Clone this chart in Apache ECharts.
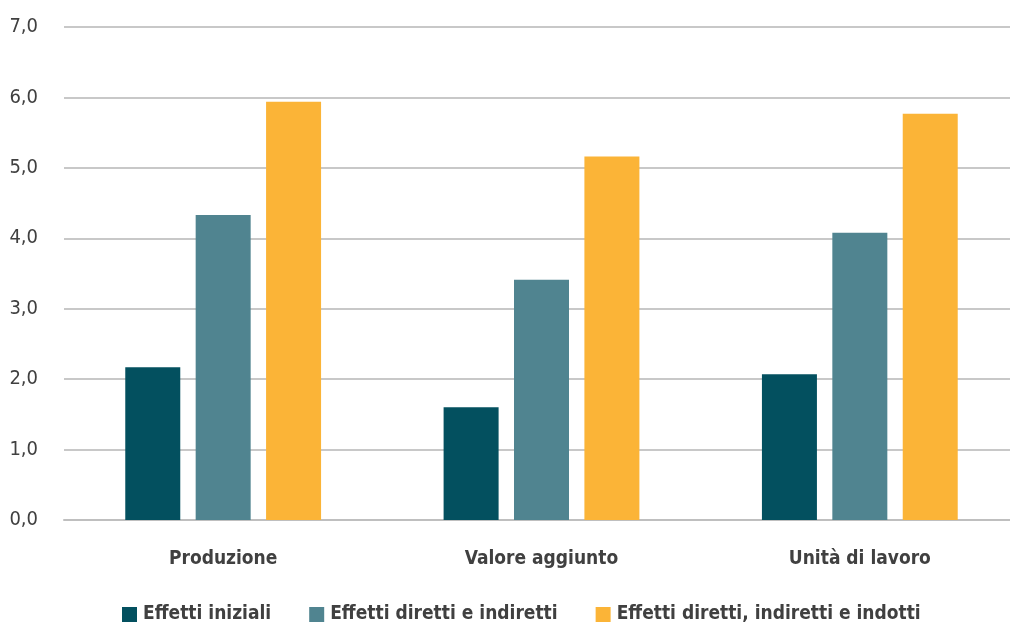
<!DOCTYPE html>
<html>
<head>
<meta charset="utf-8">
<script src="https://cdn.jsdelivr.net/npm/echarts@6/dist/echarts.min.js"></script>
<style>
html,body{margin:0;padding:0;background:#fff;overflow:hidden;width:1010px;height:624px;}
/* the drawing runs a few pixels past the right edge of the page */
#chart{width:1019px;height:624px;}
</style>
</head>
<body>
<div id="chart"></div>
<script>
// Categories and series values
const categories = ['Produzione', 'Valore aggiunto', 'Unità di lavoro'];
const seriesNames = ['Effetti iniziali', 'Effetti diretti e indiretti', 'Effetti diretti, indiretti e indotti'];
const effettiIniziali = [2.17, 1.60, 2.07];
const effettiDiretti = [4.33, 3.41, 4.08];
const effettiIndotti = [5.94, 5.16, 5.77];
const colors = ['#03505F', '#508490', '#FBB437'];

const FONT = '"DejaVu Sans Condensed", "Liberation Sans Narrow", sans-serif';
const TEXT = '#404040';

const chart = echarts.init(document.getElementById('chart'));
const mk = (name, data, color) => ({
  name, type: 'bar', data,
  barWidth: 55, barGap: '28%',
  itemStyle: { color },
  emphasis: { disabled: true }
});

chart.setOption({
  animation: false,
  color: colors,
  grid: { left: 64, right: 0, top: 27, bottom: 104 },
  legend: {
    top: 600, left: 117,
    itemWidth: 15, itemHeight: 15, itemGap: 38,
    icon: 'rect',
    textStyle: { fontFamily: FONT, fontWeight: 'bold', fontSize: 19, color: TEXT, padding: [0, 0, 0, 1] },
    data: seriesNames
  },
  xAxis: {
    type: 'category', data: categories,
    axisLine: { lineStyle: { color: '#bfbfbf', width: 2 } },
    axisTick: { show: false },
    axisLabel: { fontFamily: FONT, fontWeight: 'bold', fontSize: 19, color: TEXT, margin: 30 }
  },
  yAxis: {
    type: 'value', min: 0, max: 7, interval: 1,
    axisLine: { show: false }, axisTick: { show: false },
    splitLine: { lineStyle: { color: '#c8c8c8', width: 2 } },
    axisLabel: {
      fontFamily: FONT, fontSize: 20, color: TEXT, margin: 26,
      formatter: v => v.toFixed(1).replace('.', ',')
    }
  },
  series: [
    mk(seriesNames[0], effettiIniziali, colors[0]),
    mk(seriesNames[1], effettiDiretti, colors[1]),
    mk(seriesNames[2], effettiIndotti, colors[2])
  ]
});
</script>
</body>
</html>
